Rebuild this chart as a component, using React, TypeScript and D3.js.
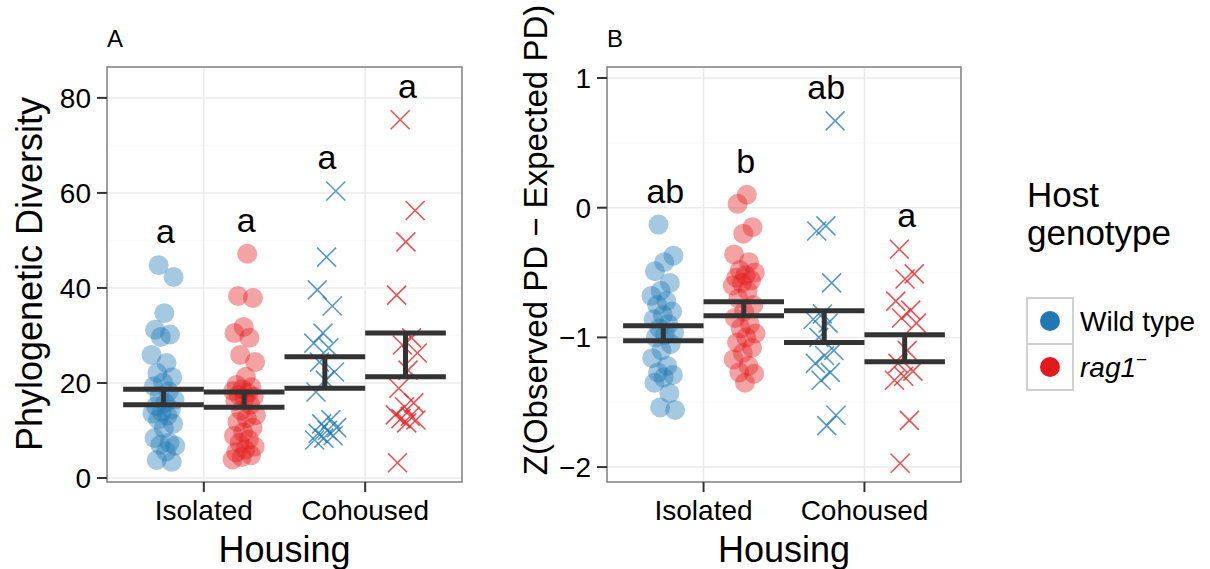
import React from 'react';
import * as d3 from 'd3';

const width = 1210;
const height = 569;
const font = '"Liberation Sans", Arial, Helvetica, sans-serif';

const housing = ['Isolated', 'Cohoused'];
const genotypes = ['Wild type', 'rag1'];
const genoColors = ['#1f78b4', '#e31a1c'];

// panel A: phylogenetic diversity
const pdIsoWT = [44.8, 42.3, 34.7, 31.2, 30.2, 29.7, 25.9, 24.2, 22.1, 21.2, 20.1, 19.3, 18.2, 17.3, 16.5, 15.8, 15.1, 14.4, 13.9, 13.6, 13.1, 12.3, 11.4, 10.5, 8.4, 7.4, 7.0, 6.8, 5.6, 3.8, 3.4];
const pdIsoRag = [47.2, 38.3, 37.9, 31.8, 30.5, 29.5, 25.9, 24.4, 21.3, 19.6, 19.1, 18.7, 18.3, 17.9, 17.5, 17.1, 16.8, 16.2, 15.4, 14.2, 13.2, 12.6, 11.8, 10.6, 9.6, 8.9, 8.1, 7.4, 6.6, 6.0, 5.4, 4.8, 4.4, 3.9];
const pdCohWT = [60.4, 46.5, 39.6, 36.2, 30.5, 28.4, 27.4, 24.4, 22.3, 20.6, 18.1, 12.3, 11.4, 10.6, 10.0, 9.4, 8.9, 8.4, 8.0];
const pdCohRag = [75.4, 56.3, 49.7, 38.5, 29.5, 28.0, 26.3, 22.7, 18.9, 15.8, 15.0, 13.3, 13.0, 12.5, 12.2, 11.6, 3.2];
const pdLow = [15.4, 14.9, 18.9, 21.3];
const pdHigh = [18.7, 18.1, 25.5, 30.5];
const pdLetters = ['a', 'a', 'a', 'a'];

// panel B: Z(observed PD - expected PD)
const zIsoWT = [-0.13, -0.37, -0.42, -0.49, -0.58, -0.64, -0.68, -0.72, -0.75, -0.8, -0.83, -0.86, -0.9, -0.93, -0.96, -0.98, -1.0, -1.05, -1.1, -1.16, -1.22, -1.27, -1.29, -1.31, -1.35, -1.43, -1.54, -1.56];
const zIsoRag = [0.1, 0.03, -0.15, -0.2, -0.36, -0.42, -0.48, -0.5, -0.52, -0.54, -0.56, -0.58, -0.6, -0.64, -0.7, -0.75, -0.8, -0.85, -0.9, -0.93, -0.97, -1.0, -1.04, -1.08, -1.12, -1.17, -1.22, -1.27, -1.28, -1.35];
const zCohWT = [0.67, -0.14, -0.18, -0.58, -0.82, -0.86, -0.89, -1.0, -1.1, -1.14, -1.2, -1.27, -1.33, -1.6, -1.68];
const zCohRag = [-0.32, -0.51, -0.55, -0.72, -0.79, -0.85, -0.89, -1.1, -1.2, -1.26, -1.3, -1.33, -1.64, -1.97];
const zLow = [-1.025, -0.833, -1.04, -1.187];
const zHigh = [-0.91, -0.725, -0.794, -0.98];
const zLetters = ['ab', 'b', 'ab', 'a'];

// group order: Isolated WT, Isolated rag1, Cohoused WT, Cohoused rag1
const groupHousing = [0, 0, 1, 1];
const groupGeno = [0, 1, 0, 1];

const jitter = i => (((i * 0.618034 + 0.3) % 1) - 0.5) * 0.15;

const minus = s => s.replace('-', '\u2212');

const Panel = ({ left, right, top, bottom, domain, series, low, high, letters, tag, yTitle, yTitleY, yTitleX, yTitleSize, fmt }) => {
    const x = d3.scaleLinear().domain([-0.6, 1.6]).range([left, right]);
    const y = d3.scaleLinear().domain(domain).range([bottom, top]);
    const major = y.ticks(4);
    const step = major[1] - major[0];
    const minor = [major[0] - step / 2, ...major.map(t => t + step / 2)].filter(
        t => t > domain[0] && t < domain[1]
    );
    const dodge = g => (g === 0 ? -0.25 : 0.25);
    const cx = k => x(groupHousing[k] + dodge(groupGeno[k]));

    return (
        <g>
            <rect x={left} y={top} width={right - left} height={bottom - top} fill="#fff" />
            {minor.map(t => (
                <line key={'mi' + t} x1={left} x2={right} y1={y(t)} y2={y(t)} stroke="#fafafa" strokeWidth={1.5} />
            ))}
            {major.map(t => (
                <line key={'ma' + t} x1={left} x2={right} y1={y(t)} y2={y(t)} stroke="#ebebeb" strokeWidth={1.5} />
            ))}
            {housing.map((h, i) => (
                <line key={h} x1={x(i)} x2={x(i)} y1={top} y2={bottom} stroke="#ebebeb" strokeWidth={1.5} />
            ))}

            {series.map((vals, k) => {
                const col = genoColors[groupGeno[k]];
                return (
                    <g key={'s' + k}>
                        {vals.map((v, i) => {
                            const px = cx(k) + (x(jitter(i + k * 7)) - x(0));
                            const py = y(v);
                            if (groupHousing[k] === 0) {
                                return <circle key={i} cx={px} cy={py} r={10} fill={col} fillOpacity={0.4} />;
                            }
                            return (
                                <path
                                    key={i}
                                    d={`M${px - 9.5},${py - 9.5}L${px + 9.5},${py + 9.5}M${px - 9.5},${py + 9.5}L${px + 9.5},${py - 9.5}`}
                                    stroke={col}
                                    strokeOpacity={0.75}
                                    strokeWidth={1.6}
                                    fill="none"
                                />
                            );
                        })}
                    </g>
                );
            })}

            {low.map((lo, k) => {
                const c = cx(k);
                const hw = x(0.25) - x(0);
                return (
                    <g key={'e' + k} stroke="#333" strokeWidth={5}>
                        <line x1={c - hw} x2={c + hw} y1={y(high[k])} y2={y(high[k])} />
                        <line x1={c - hw} x2={c + hw} y1={y(lo)} y2={y(lo)} />
                        <line x1={c} x2={c} y1={y(high[k])} y2={y(lo)} />
                    </g>
                );
            })}

            {letters.map((l, k) => (
                <text key={'l' + k} x={cx(k) + 2} y={y(d3.max(series[k])) - 22} fontSize={34} textAnchor="middle" fill="#000">
                    {l}
                </text>
            ))}

            <rect x={left} y={top} width={right - left} height={bottom - top} fill="none" stroke="#7f7f7f" strokeWidth={1.5} />

            {major.map(t => (
                <g key={'yt' + t}>
                    <line x1={left - 10} x2={left} y1={y(t)} y2={y(t)} stroke="#333" strokeWidth={2} />
                    <text x={left - 16} y={y(t)} dy="0.36em" fontSize={28} textAnchor="end" fill="#000">
                        {fmt(t)}
                    </text>
                </g>
            ))}
            {housing.map((h, i) => (
                <g key={'xt' + h}>
                    <line x1={x(i)} x2={x(i)} y1={bottom} y2={bottom + 10} stroke="#333" strokeWidth={2} />
                    <text x={x(i)} y={bottom + 38} fontSize={28} textAnchor="middle" fill="#000">
                        {h}
                    </text>
                </g>
            ))}
            <text x={(left + right) / 2} y={bottom + 80} fontSize={36} textAnchor="middle" fill="#000">
                Housing
            </text>
            <text
                transform={`translate(${yTitleX},${yTitleY}) rotate(-90)`}
                fontSize={yTitleSize}
                textAnchor="middle"
                fill="#000"
            >
                {yTitle}
            </text>
            <text x={left} y={47} fontSize={24} fill="#000">
                {tag}
            </text>
        </g>
    );
};

const Legend = () => (
    <g>
        <text x={1027} y={207} fontSize={35} fill="#000">Host</text>
        <text x={1027} y={245} fontSize={35} fill="#000">genotype</text>
        {genotypes.map((g, i) => (
            <g key={g}>
                <rect x={1027} y={298 + i * 46} width={46} height={46} fill="#fff" stroke="#d0d0d0" strokeWidth={2} />
                <circle cx={1050} cy={321 + i * 46} r={10} fill={genoColors[i]} />
                {i === 0 ? (
                    <text x={1080} y={331} fontSize={28} fill="#000">{g}</text>
                ) : (
                    <text x={1080} y={377} fontSize={28} fill="#000" fontStyle="italic">
                        {g}
                        <tspan dy={-11} fontSize={19} fontStyle="normal">{'\u2212'}</tspan>
                    </text>
                )}
            </g>
        ))}
    </g>
);

const App = () => (
    <svg
        width={width}
        height={height}
        style={{ position: 'absolute', left: 0, top: 0, fontFamily: font, background: '#fff' }}
    >
        <rect width={width} height={height} fill="#fff" />
        <Panel
            left={107}
            right={462}
            top={67}
            bottom={482}
            domain={[-0.84, 86.5]}
            series={[pdIsoWT, pdIsoRag, pdCohWT, pdCohRag]}
            low={pdLow}
            high={pdHigh}
            letters={pdLetters}
            tag="A"
            yTitle="Phylogenetic Diversity"
            yTitleX={42}
            yTitleY={274}
            yTitleSize={36}
            fmt={d3.format('d')}
        />
        <Panel
            left={607}
            right={961}
            top={67}
            bottom={482}
            domain={[-2.115, 1.085]}
            series={[zIsoWT, zIsoRag, zCohWT, zCohRag]}
            low={zLow}
            high={zHigh}
            letters={zLetters}
            tag="B"
            yTitle={'Z(Observed PD \u2212 Expected PD)'}
            yTitleX={547}
            yTitleY={240}
            yTitleSize={33}
            fmt={t => minus(d3.format('d')(t))}
        />
        <Legend />
    </svg>
);

export default App;
